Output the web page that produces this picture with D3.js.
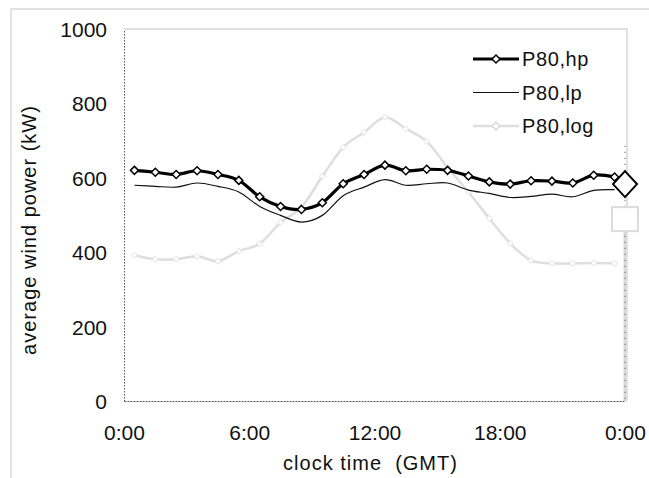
<!DOCTYPE html>
<html lang="en">
<head>
  <meta charset="UTF-8">
  <title>Average wind power by clock time</title>
  <style>
    body { margin: 0; background: #fff; }
    svg { display: block; }
    text { font-family: "Liberation Sans", Arial, sans-serif; fill: #111; }
  </style>
</head>
<body>
  <svg id="chart" width="649" height="478"></svg>
  <script src="https://d3js.org/d3.v7.min.js"></script>
  <script>
    // hours of the half-hour midpoints
    const hours = [0.5, 1.5, 2.5, 3.5, 4.5, 5.5, 6.5, 7.5, 8.5, 9.5, 10.5, 11.5,
                   12.5, 13.5, 14.5, 15.5, 16.5, 17.5, 18.5, 19.5, 20.5, 21.5, 22.5, 23.5];
    const hpValues = [620, 615, 609, 619, 609, 593, 549, 523, 515, 533, 584, 609,
                      634, 619, 623, 620, 605, 589, 583, 592, 591, 586, 607, 602];
    const lpValues = [580, 577, 575, 586, 577, 562, 523, 499, 481, 499, 552, 575,
                      595, 580, 584, 586, 567, 558, 547, 550, 556, 549, 566, 568];
    const logValues = [392, 381, 381, 389, 376, 403, 423, 480, 521, 604, 682, 722,
                       763, 732, 698, 628, 562, 491, 424, 378, 370, 370, 371, 370];
    const seriesNames = ["P80,hp", "P80,lp", "P80,log"];

    // daily averages shown at 24:00 with their bars
    const dailyHour = 24;
    const dailyHp = { mean: 583, lo: 0, hi: 686 };
    const dailyLog = { mean: 489, lo: 0 };

    const xTicks = [0, 6, 12, 18, 24];
    const xTickLabels = ["0:00", "6:00", "12:00", "18:00", "0:00"];
    const yTicks = [0, 200, 400, 600, 800, 1000];

    const svg = d3.select("#chart");
    const x = d3.scaleLinear().domain([0, 24]).range([124, 625]);
    const y = d3.scaleLinear().domain([0, 1000]).range([401, 29]);

    // outer light frame
    svg.append("rect")
      .attr("x", 11).attr("y", 9).attr("width", 700).attr("height", 520)
      .attr("fill", "none").attr("stroke", "#e2e2e2").attr("stroke-width", 2);

    // plot frame: light top/right, dotted dark left/bottom
    svg.append("path")
      .attr("d", `M${x(0)},${y(1000)}H${x(24) + 2}V${y(0)}`)
      .attr("fill", "none").attr("stroke", "#d6d6d6").attr("stroke-width", 1.5);

    const yAxis = d3.axisLeft(y).tickValues(yTicks).tickFormat(d3.format("d"))
      .tickSize(0).tickPadding(17);
    const gy = svg.append("g").attr("transform", `translate(${x(0)},0)`).call(yAxis);
    gy.select(".domain").attr("stroke", "#555").attr("stroke-dasharray", "1.5,1.5");
    gy.selectAll("text").style("font-size", "21px").attr("dy", "0.36em");

    const xAxis = d3.axisBottom(x).tickValues(xTicks)
      .tickFormat((d, i) => xTickLabels[i]).tickSize(0).tickPadding(24);
    const gx = svg.append("g").attr("transform", `translate(0,${y(0)})`).call(xAxis);
    gx.select(".domain").attr("stroke", "#555").attr("stroke-dasharray", "2,1");
    gx.selectAll("text").style("font-size", "21px");

    // axis titles
    svg.append("text")
      .attr("x", x(12) - 4).attr("y", 470)
      .attr("text-anchor", "middle")
      .style("font-size", "20px")
      .style("letter-spacing", "1px")
      .style("white-space", "pre")
      .attr("xml:space", "preserve")
      .text("clock time  (GMT)");

    svg.append("text")
      .attr("transform", `translate(36,${230}) rotate(-90)`)
      .attr("text-anchor", "middle")
      .style("font-size", "20px")
      .style("letter-spacing", "1px")
      .text("average wind power (kW)");

    const line = d3.line()
      .x(d => x(d[0]))
      .y(d => y(d[1]))
      .curve(d3.curveCardinal.tension(0));

    const diamond = (cx, cy, w, h) =>
      `M${cx},${cy - h}L${cx + w},${cy}L${cx},${cy + h}L${cx - w},${cy}Z`;

    // log series (light grey)
    const logPts = hours.map((h, i) => [h, logValues[i]]);
    svg.append("path").attr("d", line(logPts))
      .attr("fill", "none").attr("stroke", "#dedede").attr("stroke-width", 2.5);
    svg.append("g").selectAll("path").data(logPts).join("path")
      .attr("d", d => diamond(x(d[0]), y(d[1]), 3, 3))
      .attr("fill", "#fff").attr("stroke", "#e0e0e0").attr("stroke-width", 1);

    // daily bars at 24:00
    svg.append("line")
      .attr("x1", x(dailyHour)).attr("x2", x(dailyHour))
      .attr("y1", y(dailyLog.mean)).attr("y2", y(dailyLog.lo))
      .attr("stroke", "#dadada").attr("stroke-width", 3);
    svg.append("line")
      .attr("x1", x(dailyHour)).attr("x2", x(dailyHour))
      .attr("y1", y(dailyHp.hi)).attr("y2", y(dailyHp.lo))
      .attr("stroke", "#444").attr("stroke-width", 1).attr("stroke-dasharray", "1,5");
    svg.append("rect")
      .attr("x", x(dailyHour) - 13).attr("y", y(dailyLog.mean) - 12)
      .attr("width", 26).attr("height", 24)
      .attr("fill", "#fff").attr("stroke", "#dcdcdc").attr("stroke-width", 2);

    // lp series (thin black)
    const lpPts = hours.map((h, i) => [h, lpValues[i]]);
    svg.append("path").attr("d", line(lpPts))
      .attr("fill", "none").attr("stroke", "#111").attr("stroke-width", 1.2);

    // hp series (thick black with diamonds)
    const hpPts = hours.map((h, i) => [h, hpValues[i]]);
    svg.append("path").attr("d", line(hpPts))
      .attr("fill", "none").attr("stroke", "#000").attr("stroke-width", 3.2);
    svg.append("g").selectAll("path").data(hpPts).join("path")
      .attr("d", d => diamond(x(d[0]), y(d[1]), 4, 4))
      .attr("fill", "#fff").attr("stroke", "#000").attr("stroke-width", 1.5);

    svg.append("path")
      .attr("d", diamond(x(dailyHour), y(dailyHp.mean), 12, 13))
      .attr("fill", "#fff").attr("stroke", "#000").attr("stroke-width", 2);

    // legend
    const legendStyles = [
      { stroke: "#000", width: 3.2, marker: "#000" },
      { stroke: "#111", width: 1.2, marker: null },
      { stroke: "#dedede", width: 2.5, marker: "#d8d8d8" }
    ];
    const legend = svg.append("g");
    seriesNames.forEach((name, i) => {
      const ly = 59 + i * 33.5;
      const st = legendStyles[i];
      legend.append("line")
        .attr("x1", 473).attr("x2", 519).attr("y1", ly).attr("y2", ly)
        .attr("stroke", st.stroke).attr("stroke-width", st.width);
      if (st.marker) {
        legend.append("path").attr("d", diamond(496, ly, 4, 4))
          .attr("fill", "#fff").attr("stroke", st.marker).attr("stroke-width", 1.5);
      }
      legend.append("text")
        .attr("x", 522).attr("y", ly).attr("dy", "0.36em")
        .style("font-size", "20px")
        .style("letter-spacing", "0.6px")
        .text(name);
    });
  </script>
</body>
</html>
